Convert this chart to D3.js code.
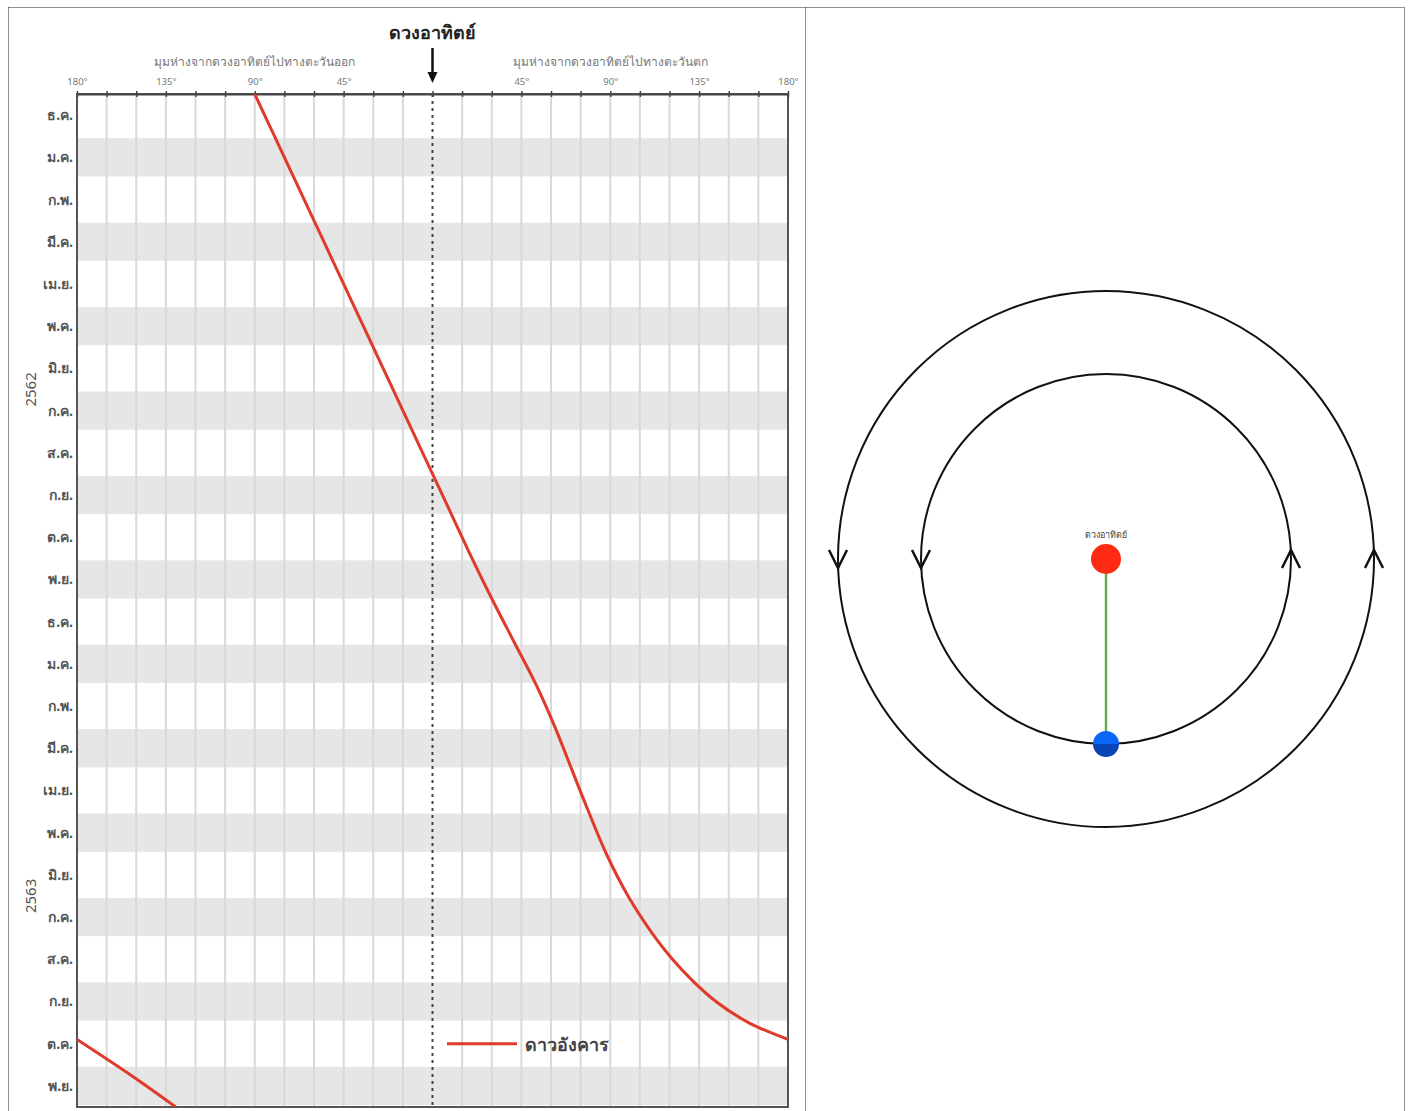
<!DOCTYPE html>
<html>
<head>
<meta charset="utf-8">
<script src="https://cdn.jsdelivr.net/npm/d3@7"></script>
<style>
  html, body { margin: 0; padding: 0; background: #fff; }
  svg { display: block; }
  text { font-family: "Noto Sans", "DejaVu Sans", sans-serif; }
</style>
</head>
<body>
<svg id="chart" width="1410" height="1111"></svg>
<script>
// ---------------- DATA ----------------
const months = ["ธ.ค.","ม.ค.","ก.พ.","มี.ค.","เม.ย.","พ.ค.","มิ.ย.","ก.ค.","ส.ค.","ก.ย.","ต.ค.","พ.ย.",
                "ธ.ค.","ม.ค.","ก.พ.","มี.ค.","เม.ย.","พ.ค.","มิ.ย.","ก.ค.","ส.ค.","ก.ย.","ต.ค.","พ.ย."];
const yearLabels = ["2562", "2563"];
const yearFirstRow = [1, 13];          // row index of January of each year
const tickValues = d3.range(-180, 181, 15);
const labelledTicks = [180, 135, 90, 45, -45, -90, -135, -180];
const eastTitle = "มุมห่างจากดวงอาทิตย์ไปทางตะวันออก";
const westTitle = "มุมห่างจากดวงอาทิตย์ไปทางตะวันตก";
const sunLabel = "ดวงอาทิตย์";
const seriesName = "ดาวอังคาร";

// Mars elongation (positive = east of Sun, negative = west), time in months from start of ธ.ค. 2561
const marsTime1 = [0, 1, 2, 3, 4, 5, 6, 7, 8, 9, 10, 11, 12, 13, 14, 15, 16, 17, 18, 19, 20, 20.5, 21, 21.5, 22, 22.4];
const marsElong1 = [90, 80, 70, 60, 50, 40, 30, 20, 10, 0, -10, -20, -30.5, -41.5, -52.5, -62, -70.5, -79, -88, -99, -113, -121.5, -131.5, -143.5, -160, -180];
const marsTime2 = [22.4, 23.3, 24];
const marsElong2 = [180, 151, 130];

// ---------------- LAYOUT ----------------
const svg = d3.select("#chart");
const plot = { left: 77, right: 788, top: 94, bottom: 1107 };

const x = d3.scaleLinear().domain([180, -180]).range([plot.left, plot.right]);
const y = d3.scaleLinear().domain([0, months.length]).range([plot.top, plot.bottom]);
const rowBand = d3.scaleBand().domain(d3.range(months.length)).range([plot.top, plot.bottom]);

// outer dotted frame
const frame = svg.append("g").attr("stroke", "#222").attr("stroke-width", 1).attr("stroke-dasharray", "1,1").attr("fill", "none");
frame.append("line").attr("x1", 8.5).attr("x2", 1404.5).attr("y1", 7.5).attr("y2", 7.5);
frame.append("line").attr("x1", 8.5).attr("x2", 8.5).attr("y1", 7.5).attr("y2", 1111);
frame.append("line").attr("x1", 805.5).attr("x2", 805.5).attr("y1", 7.5).attr("y2", 1111);
frame.append("line").attr("x1", 1404.5).attr("x2", 1404.5).attr("y1", 7.5).attr("y2", 1111);

// alternating row bands
svg.append("g").selectAll("rect")
  .data(d3.range(months.length).filter(i => i % 2 === 1))
  .join("rect")
  .attr("x", plot.left)
  .attr("width", plot.right - plot.left)
  .attr("y", i => rowBand(i) + 2)
  .attr("height", rowBand.bandwidth() - 4)
  .attr("fill", "#e6e6e6");

// vertical grid lines
svg.append("g").selectAll("line")
  .data(tickValues.filter(v => v !== 0))
  .join("line")
  .attr("x1", d => x(d)).attr("x2", d => x(d))
  .attr("y1", plot.top).attr("y2", plot.bottom)
  .attr("stroke", "#d9d9d9").attr("stroke-width", 2);

// Sun (0°) dashed line
svg.append("line")
  .attr("x1", x(0)).attr("x2", x(0))
  .attr("y1", plot.top).attr("y2", plot.bottom)
  .attr("stroke", "#444").attr("stroke-width", 2).attr("stroke-dasharray", "3,4");

// plot frame
svg.append("rect")
  .attr("x", plot.left).attr("y", plot.top)
  .attr("width", plot.right - plot.left).attr("height", plot.bottom - plot.top)
  .attr("fill", "none").attr("stroke", "#555").attr("stroke-width", 2);

// top axis
const axis = d3.axisTop(x)
  .tickValues(tickValues)
  .tickSizeInner(3).tickSizeOuter(0)
  .tickPadding(6)
  .tickFormat(d => labelledTicks.includes(d) ? Math.abs(d) + "°" : "");
const axG = svg.append("g").attr("transform", `translate(0,${plot.top})`).call(axis);
axG.select(".domain").attr("stroke", "#444").attr("stroke-width", 2);
axG.selectAll(".tick line").attr("stroke", "#444").attr("stroke-width", 1.5).attr("y2", 3).attr("y1", -3);
axG.selectAll(".tick text").attr("fill", "#777").attr("font-size", 9.5).attr("font-family", "Liberation Serif, serif");

// axis titles
svg.append("text").attr("x", x(90)).attr("y", 66).attr("text-anchor", "middle")
  .attr("font-size", 12).attr("fill", "#777").text(eastTitle);
svg.append("text").attr("x", x(-90)).attr("y", 66).attr("text-anchor", "middle")
  .attr("font-size", 12).attr("fill", "#777").text(westTitle);

// Sun label + arrow
svg.append("text").attr("x", x(0)).attr("y", 39).attr("text-anchor", "middle")
  .attr("font-size", 18).attr("font-weight", "bold").attr("fill", "#222").text(sunLabel);
svg.append("line").attr("x1", x(0)).attr("x2", x(0)).attr("y1", 48).attr("y2", 74)
  .attr("stroke", "#111").attr("stroke-width", 2.5);
svg.append("path")
  .attr("d", `M${x(0) - 5},72 L${x(0) + 5},72 L${x(0)},83 Z`)
  .attr("fill", "#111");

// month labels
svg.append("g").selectAll("text")
  .data(months)
  .join("text")
  .attr("x", 73)
  .attr("y", (d, i) => rowBand(i) + rowBand.bandwidth() / 2 + 5)
  .attr("text-anchor", "end")
  .attr("font-size", 14).attr("font-weight", "bold").attr("fill", "#555")
  .text(d => d);

// year labels
svg.append("g").selectAll("text")
  .data(yearLabels)
  .join("text")
  .attr("transform", (d, i) => `translate(36,${y(yearFirstRow[i] + 6)}) rotate(-90)`)
  .attr("text-anchor", "middle")
  .attr("font-size", 15).attr("fill", "#555")
  .text(d => d);

// Mars line
svg.append("clipPath").attr("id", "plotClip").append("rect")
  .attr("x", plot.left).attr("y", plot.top)
  .attr("width", plot.right - plot.left).attr("height", plot.bottom - plot.top);

const line = d3.line()
  .x(d => x(d.e)).y(d => y(d.t))
  .curve(d3.curveCatmullRom.alpha(0.5));
const seg1 = marsTime1.map((t, i) => ({ t, e: marsElong1[i] }));
const seg2 = marsTime2.map((t, i) => ({ t, e: marsElong2[i] }));
const marsG = svg.append("g").attr("clip-path", "url(#plotClip)");
[seg1, seg2].forEach(seg => {
  marsG.append("path").datum(seg).attr("d", line)
    .attr("fill", "none").attr("stroke", "#e03a2a").attr("stroke-width", 3);
});

// legend
const legY = y(22.5);
svg.append("line").attr("x1", 447).attr("x2", 517).attr("y1", legY).attr("y2", legY)
  .attr("stroke", "#e03a2a").attr("stroke-width", 3);
svg.append("text").attr("x", 525).attr("y", legY + 7)
  .attr("font-size", 18).attr("font-weight", "bold").attr("fill", "#444").text(seriesName);

// ---------------- ORBIT DIAGRAM ----------------
const cx = 1106, cy = 559;
const orbitRadii = [185, 268];
const orb = svg.append("g");
orb.selectAll("circle.orbit")
  .data(orbitRadii)
  .join("circle")
  .attr("class", "orbit")
  .attr("cx", cx).attr("cy", cy).attr("r", d => d)
  .attr("fill", "none").attr("stroke", "#111").attr("stroke-width", 2);

// direction chevrons: down on the left, up on the right
orbitRadii.forEach(r => {
  orb.append("path")
    .attr("d", `M${cx - r - 9},${cy - 9} L${cx - r},${cy + 9} L${cx - r + 9},${cy - 9}`)
    .attr("fill", "none").attr("stroke", "#111").attr("stroke-width", 2.5);
  orb.append("path")
    .attr("d", `M${cx + r - 9},${cy + 9} L${cx + r},${cy - 9} L${cx + r + 9},${cy + 9}`)
    .attr("fill", "none").attr("stroke", "#111").attr("stroke-width", 2.5);
});

// Sun-Earth line
const earthY = cy + orbitRadii[0];
orb.append("line").attr("x1", cx).attr("x2", cx).attr("y1", cy).attr("y2", earthY)
  .attr("stroke", "#6aa84f").attr("stroke-width", 2.5);

// Sun
orb.append("circle").attr("cx", cx).attr("cy", cy).attr("r", 15).attr("fill", "#ff2a12");
orb.append("text").attr("x", cx).attr("y", cy - 21).attr("text-anchor", "middle")
  .attr("font-size", 9).attr("fill", "#444").text(sunLabel);

// Earth (two-tone)
const er = 13;
orb.append("path")
  .attr("d", `M${cx - er},${earthY} A${er},${er} 0 0 1 ${cx + er},${earthY} Z`)
  .attr("fill", "#0a66f5");
orb.append("path")
  .attr("d", `M${cx - er},${earthY} A${er},${er} 0 0 0 ${cx + er},${earthY} Z`)
  .attr("fill", "#0a45b8");
</script>
</body>
</html>
